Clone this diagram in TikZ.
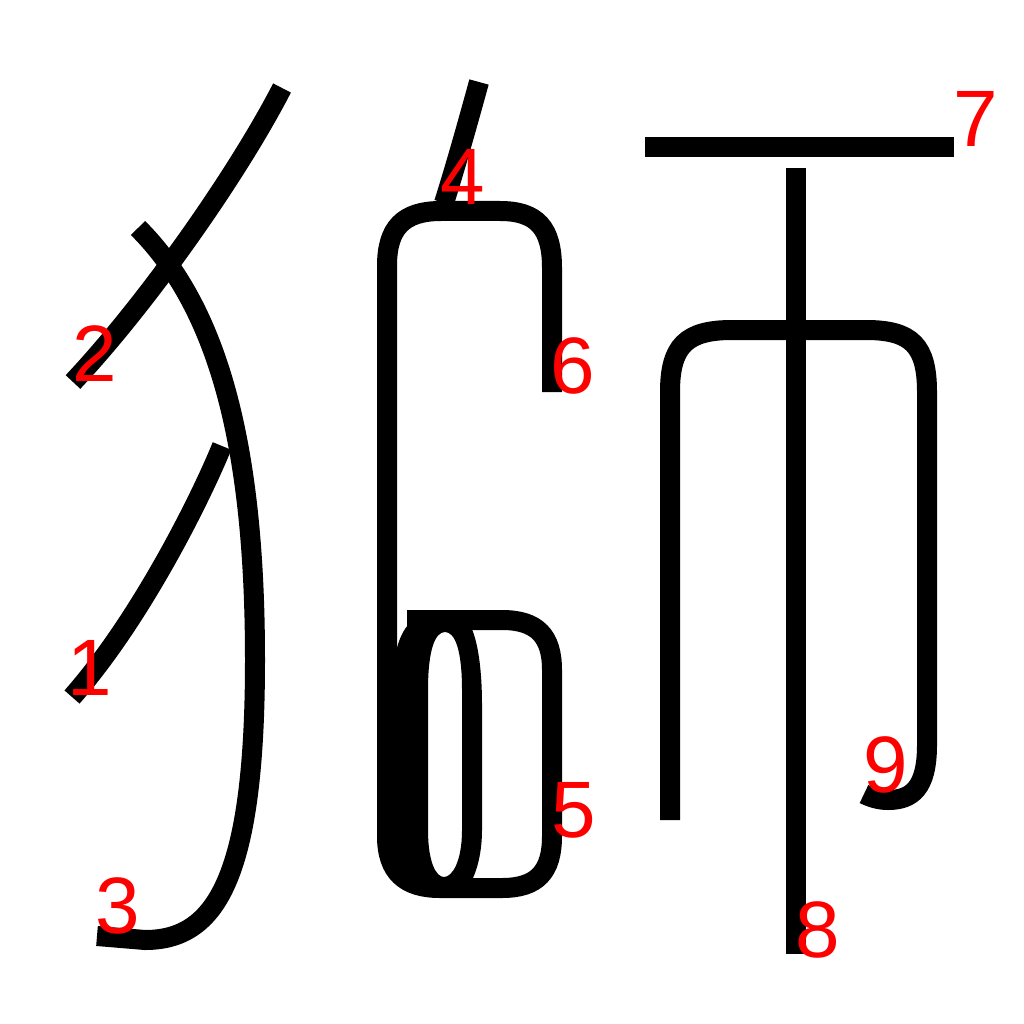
\documentclass[tikz,border=0pt]{standalone}
\usepackage{fontspec}
\setmainfont{Liberation Sans}
\begin{document}
\begin{tikzpicture}[x=1pt,y=-1pt,
  stk/.style={line width=20pt, draw=black},
  num/.style={text=red, font=\fontsize{80}{80}\selectfont, inner sep=0pt, anchor=center}]
\useasboundingbox (0,0) rectangle (1024,1024);
% stroke 1
\draw[stk] (222,446) .. controls (200,500) and (140,620) .. (72,697);
% stroke 2
\draw[stk] (282,88) .. controls (240,170) and (150,300) .. (73,382);
% stroke 3
\draw[stk] (138,228) .. controls (220,310) and (255,450) .. (255,660) .. controls (255,880) and (215,940) .. (145,940) -- (97,936);
% stroke 4
\draw[stk] (479,82) .. controls (468,122) and (456,165) .. (444,203);
% upper box
\draw[stk] (387,838) -- (387,266) .. controls (387,228) and (403,211) .. (441,211) -- (500,211) .. controls (537,211) and (552,228) .. (552,268) -- (552,392);
% capsule
\fill[black, even odd rule] (394,880) -- (394,668) .. controls (395,648) and (401,633) .. (408,625) -- (470,625) .. controls (478,640) and (482,670) .. (482,705) -- (482,830) .. controls (482,850) and (478,868) .. (472,880) -- cycle
  (445,632) .. controls (435,632) and (428,650) .. (428,690) -- (428,830) .. controls (428,862) and (436,877) .. (444,877) .. controls (452,877) and (462,862) .. (462,830) -- (462,690) .. controls (462,650) and (455,632) .. (445,632);
% lower box
\draw[stk] (387,700) -- (387,836) .. controls (387,872) and (405,888) .. (440,888) -- (502,888) .. controls (537,888) and (552,872) .. (552,836) -- (552,670) .. controls (552,636) and (537,620) .. (502,620) -- (407,620);
% right part
\draw[stk] (645,147) -- (954,147);
\draw[stk] (796,168) -- (796,954);
\draw[stk] (670,820) -- (670,392) .. controls (670,346) and (686,330) .. (732,330) -- (866,330) .. controls (912,330) and (927,346) .. (927,392) -- (927,745) .. controls (927,788) and (912,800) .. (888,800) .. controls (878,800) and (870,797) .. (864,794);
% labels
\node[num] (l1) at (90,668) {1};
\node[num] (l2) at (95,354) {2};
\node[num] (l3) at (118,906) {3};
\node[num] (l4) at (463,177) {4};
\node[num] (l5) at (574,810) {5};
\node[num] (l6) at (573,366) {6};
\node[num] (l7) at (976,119) {7};
\node[num] (l8) at (818,930) {8};
\node[num] (l9) at (886,765) {9};
\end{tikzpicture}
\end{document}
